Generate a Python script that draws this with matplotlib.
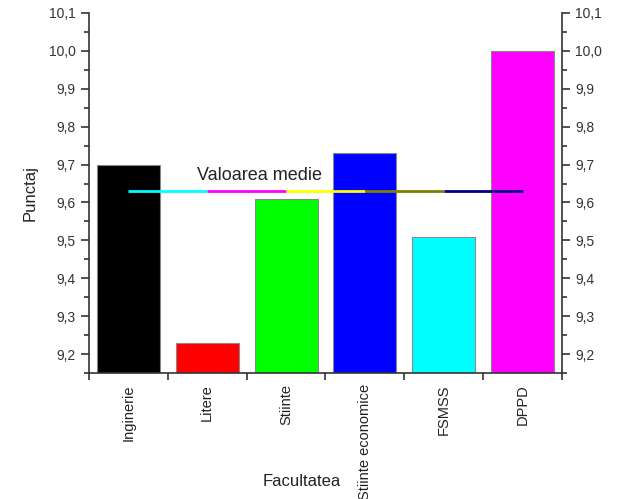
import numpy as np
import matplotlib
matplotlib.use("Agg")
import matplotlib.pyplot as plt
from matplotlib.ticker import MultipleLocator, FixedLocator

facultati = ["Inginerie", "Litere", "Stiinte", "Stiinte economice", "FSMSS", "DPPD"]
punctaj = [9.70, 9.23, 9.61, 9.73, 9.51, 10.0]
culori = ["#000000", "#ff0000", "#00ff00", "#0000ff", "#00ffff", "#ff00ff"]
medie = 9.63
culori_medie = ["#00ffff", "#ff00ff", "#ffff00", "#808000", "#000080"]

plt.rcParams['font.family'] = ['Liberation Sans', 'DejaVu Sans']

fig = plt.figure(figsize=(6.2, 4.99), dpi=100)
ax = fig.add_axes([0.1435, 0.2525, 0.763, 0.7215])

x = np.arange(1, len(facultati) + 1)
ax.bar(x, punctaj, width=0.8, color=culori, edgecolor="#888888", linewidth=0.8, zorder=2)

# linia mediei, cate un segment colorat intre centrele barelor
for i in range(len(culori_medie)):
    ax.plot([x[i], x[i + 1]], [medie, medie], color=culori_medie[i], lw=2, zorder=3,
            solid_capstyle="butt")
ax.text(2.66, 9.672, "Valoarea medie", ha="center", va="center", fontsize=13, color="#222222")

ax.set_xlim(0.5, 6.5)
ax.set_ylim(9.15, 10.1)

ax.yaxis.set_major_locator(MultipleLocator(0.1))
ax.yaxis.set_minor_locator(MultipleLocator(0.05))
ax.yaxis.set_major_formatter(lambda v, p: f"{v:.1f}".replace(".", ","))
ax.tick_params(axis="y", which="both", left=True, right=True, labelleft=True, labelright=True,
               direction="out", labelsize=10, colors="#333333")
ax.tick_params(axis="y", which="major", length=6, width=1.2)
ax.tick_params(axis="y", which="minor", length=3.5, width=1.2)

ax.xaxis.set_major_locator(FixedLocator(x))
ax.set_xticklabels(facultati, rotation=90, fontsize=10.5, color="#222222")
ax.xaxis.set_minor_locator(FixedLocator(np.arange(0.5, 7, 1)))
ax.tick_params(axis="x", which="major", length=0, pad=8)
ax.tick_params(axis="x", which="minor", length=5, width=1.2, direction="out", colors="#333333")

ax.spines["top"].set_visible(False)
for s in ["left", "right", "bottom"]:
    ax.spines[s].set_linewidth(1.2)
    ax.spines[s].set_color("#333333")

ax.set_ylabel("Punctaj", fontsize=12, color="#222222")
ax.yaxis.set_label_coords(-0.108, 0.5)
ax.set_xlabel("Facultatea", fontsize=12, color="#222222")
ax.xaxis.set_label_coords(0.449, -0.28)

plt.savefig("out.png", dpi=100)
plt.close()
